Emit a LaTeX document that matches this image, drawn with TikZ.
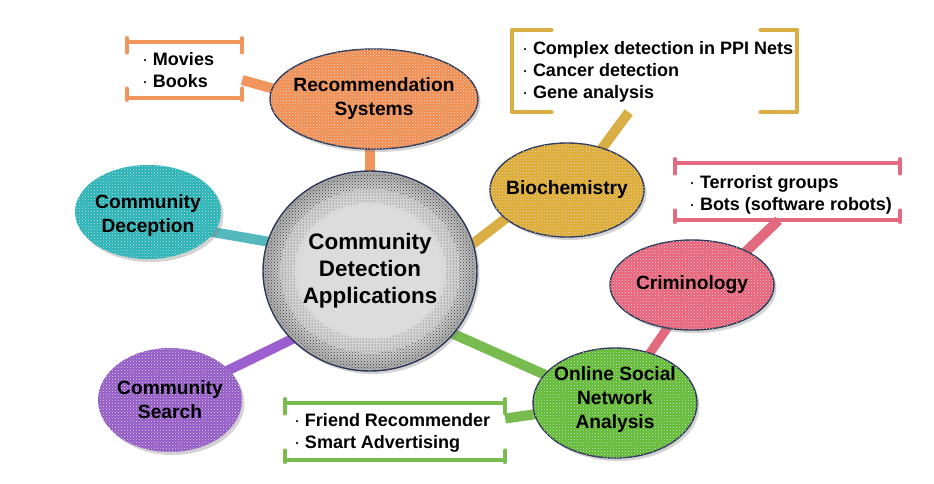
\documentclass[tikz,border=0pt]{standalone}
\usepackage{fontspec}
\setmainfont{Liberation Sans}
\usetikzlibrary{shapes.geometric,shadows,patterns,calc}
\definecolor{navy}{HTML}{2C3757}
\definecolor{forange}{HTML}{F58C4B}
\definecolor{lorange}{HTML}{F0965C}
\definecolor{fteal}{HTML}{22B3B6}
\definecolor{lteal}{HTML}{55B8BC}
\definecolor{fpurple}{HTML}{9257C8}
\definecolor{lpurple}{HTML}{9C5FD0}
\definecolor{fgold}{HTML}{E0AA2A}
\definecolor{lgold}{HTML}{D8AE45}
\definecolor{fpink}{HTML}{EC5F78}
\definecolor{lpink}{HTML}{E36A7E}
\definecolor{fgreen}{HTML}{5DBB2E}
\definecolor{lgreen}{HTML}{78BB4E}
\definecolor{speckc}{HTML}{D9D9D9}
\definecolor{cgcore}{HTML}{DCDCDC}
\definecolor{cgmid}{HTML}{CDCDCD}
\definecolor{cgedge}{HTML}{A8A8A8}
\definecolor{darkspeck}{HTML}{3A3A3A}
\pgfdeclareradialshading{ringshade}{\pgfpoint{0bp}{0bp}}{color(0bp)=(cgcore); color(16bp)=(cgcore); color(21bp)=(cgmid); color(25bp)=(cgedge); color(50bp)=(cgedge)}
\pgfdeclarelayer{bg}
\pgfsetlayers{bg,main}
\newcommand\tickframe[2]{%
 \draw[frame,#2] (#1.north west) -- (#1.north east);
 \draw[frame,#2] (#1.north west) ++(0,-4) -- ++(0,15);
 \draw[frame,#2] (#1.north east) ++(0,-4) -- ++(0,15);
 \draw[frame,#2] (#1.south west) -- (#1.south east);
 \draw[frame,#2] (#1.south west) ++(0,2) -- ++(0,-12);
 \draw[frame,#2] (#1.south east) ++(0,2) -- ++(0,-12);}
\newcommand\bracketframe[2]{%
 \draw[frame,#2] ($(#1.north west)+(40,0)$) -- (#1.north west) -- (#1.south west) -- ++(40,0);
 \draw[frame,#2] ($(#1.north east)+(-37,0)$) -- (#1.north east) -- (#1.south east) -- ++(-37,0);}
\tikzset{
 bubble/.style={ellipse, inner sep=0pt, draw=navy, line width=1.4pt,
   drop shadow={opacity=0.35, shadow xshift=2.5pt, shadow yshift=-3pt}},
 speck/.style={postaction={pattern=crosshatch dots, pattern color=speckc}},
 lbl/.style={font=\fontsize{19.2}{24}\selectfont\bfseries, align=center, text=black, inner sep=0pt},
 bul/.style={font=\fontsize{18}{22}\selectfont\bfseries, align=left, anchor=west, inner sep=0pt},
 frame/.style={line width=3.5pt, line cap=round, line join=round},
 link/.style={line width=10pt, shorten >=-6pt, shorten <=-6pt},
 boxarea/.style={rectangle, inner sep=0pt, draw=none},
}
\begin{document}
\begin{tikzpicture}[x=1pt,y=-1pt]
\useasboundingbox (0,0) rectangle (934,483);

% bubbles
\node[bubble, speck, fill=forange, minimum width=208pt, minimum height=100pt] (R) at (374,99) {};
\node[bubble, speck, fill=fgold, minimum width=154pt, minimum height=94pt] (B) at (567,190) {};
\node[bubble, speck, draw=none, fill=fteal, minimum width=146pt, minimum height=94pt] (D) at (148,212) {};
\node[bubble, speck, draw=none, fill=fpurple, minimum width=144pt, minimum height=104pt] (S) at (170,400) {};
\node[bubble, speck, fill=fpink, minimum width=164pt, minimum height=90pt] (Cr) at (692,285) {};
\node[bubble, speck, fill=fgreen, minimum width=164pt, minimum height=110pt] (O) at (615,403) {};
\node[bubble, shade, shading=ringshade, minimum width=214pt, minimum height=200pt] (C) at (370,271) {};
% speckled rim of the centre bubble
\fill[pattern=crosshatch dots, pattern color=darkspeck, even odd rule]
  (C.center) ellipse [x radius=105, y radius=98] (C.center) ellipse [x radius=90, y radius=82];
\fill[pattern=dots, pattern color=darkspeck, even odd rule]
  (C.center) ellipse [x radius=90, y radius=82] (C.center) ellipse [x radius=76, y radius=68];

% bubble labels
\node[lbl] (Rt) at (R) {Recommendation\\Systems};
\node[lbl] (Bt) at (B) {Biochemistry};
\node[lbl] (Dt) at ([yshift=-4pt]D.center) {Community\\Deception};
\node[lbl] (St) at (S) {Community\\Search};
\node[lbl] (Crt) at (Cr) {Criminology};
\node[lbl] (Ot) at ([yshift=3pt]O.center) {Online Social\\Network\\Analysis};
\node[lbl, font=\fontsize{22.4}{27}\selectfont\bfseries] (Ct) at (C) {Community\\Detection\\Applications};

% example boxes
\node[boxarea, minimum width=115pt, minimum height=56pt] (M) at (184.5,70) {};
\node[bul] (Mt) at ([xshift=15pt]M.west) {{\mdseries ·} Movies\\{\mdseries ·} Books};
\node[boxarea, minimum width=285pt, minimum height=82pt] (P) at (654.5,71) {};
\node[bul] (Pt) at ([xshift=10pt,yshift=-1pt]P.west) {{\mdseries ·} Complex detection in PPI Nets\\{\mdseries ·} Cancer detection\\{\mdseries ·} Gene analysis};
\node[boxarea, minimum width=225pt, minimum height=57pt] (T) at (787.5,191.5) {};
\node[bul] (Tt) at ([xshift=14pt,yshift=-3pt]T.west) {{\mdseries ·} Terrorist groups\\{\mdseries ·} Bots (software robots)};
\node[boxarea, minimum width=220pt, minimum height=57pt] (F) at (395,431.5) {};
\node[bul] (Ft) at ([xshift=9pt,yshift=-1pt]F.west) {{\mdseries ·} Friend Recommender\\{\mdseries ·} Smart Advertising};

\tickframe{M}{lorange}
\bracketframe{P}{lgold}
\tickframe{T}{lpink}
\tickframe{F}{lgreen}

% connectors
\begin{pgfonlayer}{bg}
\draw[link, lorange] (C.north |- R.south) -- (C.north);
\draw[link, lorange, shorten <=0pt] ([yshift=-10pt]M.east) -- (R.174);
\draw[link, lteal] (D.-17) -- (C.164);
\draw[link, lpurple] (S.27) -- (C.221);
\draw[link, lgold] (C.15) -- (B.205);
\draw[link, lgold, shorten >=0pt] (B.50) -- ($(P.south west)!0.41!(P.south east)$);
\draw[link, lpink, shorten >=0pt] (Cr.32) -- ($(T.south west)!0.46!(T.south east)$);
\draw[link, lpink, line width=9pt] (Cr.240) -- (O.55);
\draw[link, lgreen] (C.323) -- (O.158);
\draw[link, lgreen, shorten <=0pt] ([yshift=13pt]F.east) -- (O.188);
\end{pgfonlayer}
\end{tikzpicture}
\end{document}
